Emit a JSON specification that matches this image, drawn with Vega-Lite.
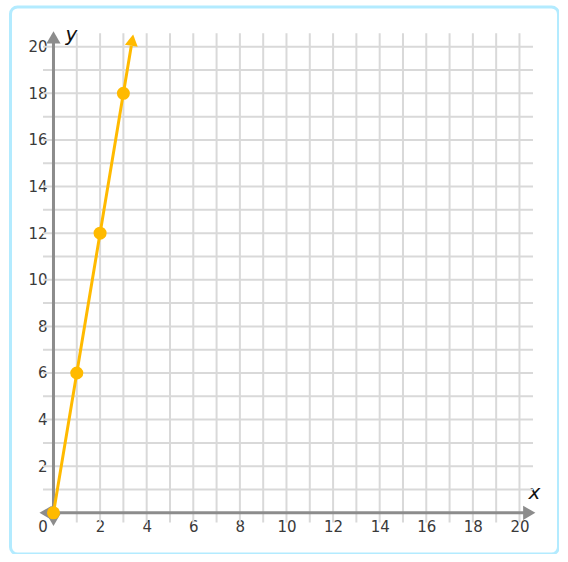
{
  "$schema": "https://vega.github.io/schema/vega-lite/v6.json",
  "autosize": "none",
  "width": 548,
  "height": 547,
  "padding": {"left": 10.5, "top": 7, "right": 0, "bottom": 0},
  "background": "white",
  "config": {
    "view": {"stroke": "#b3ebff", "strokeWidth": 3, "cornerRadius": 7},
    "axis": {"labelFont": "DejaVu Sans", "labelFontSize": 15, "labelColor": "#3a3a3a", "titleFont": "DejaVu Sans"}
  },
  "datasets": {
    "grid": [{"v": 1}, {"v": 2}, {"v": 3}, {"v": 4}, {"v": 5}, {"v": 6}, {"v": 7}, {"v": 8}, {"v": 9}, {"v": 10}, {"v": 11}, {"v": 12}, {"v": 13}, {"v": 14}, {"v": 15}, {"v": 16}, {"v": 17}, {"v": 18}, {"v": 19}, {"v": 20}],
    "pts": [{"x": 0, "y": 0}, {"x": 1, "y": 6}, {"x": 2, "y": 12}, {"x": 3, "y": 18}],
    "line": [{"x": 0, "y": 0}, {"x": 1, "y": 6}, {"x": 2, "y": 12}, {"x": 3, "y": 18}, {"x": 3.34, "y": 20.04}],
    "one": [{"k": 1}]
  },
  "layer": [
    {
      "data": {"name": "grid"},
      "mark": {"type": "rule", "color": "#d9d9d9", "strokeWidth": 2},
      "encoding": {
        "x": {"field": "v", "type": "quantitative",
              "scale": {"domain": [-1.845, 21.675], "nice": false, "zero": false},
              "axis": {"orient": "bottom", "offset": -41.3, "values": [0, 2, 4, 6, 8, 10, 12, 14, 16, 18, 20],
                       "domain": false, "ticks": false, "grid": false, "labelPadding": 7,
                       "labelOffset": {"condition": {"test": "datum.value == 0", "value": -11}, "value": 0},
                       "title": "x", "titleFontStyle": "italic", "titleFontWeight": "normal", "titleFontSize": 20,
                       "titleColor": "#111111", "titleAngle": 0, "titleAlign": "center", "titleBaseline": "alphabetic",
                       "titleX": 523.5, "titleY": -14.7}},
        "y": {"datum": -0.42},
        "y2": {"datum": 20.58}
      }
    },
    {
      "data": {"name": "grid"},
      "mark": {"type": "rule", "color": "#d9d9d9", "strokeWidth": 2},
      "encoding": {
        "y": {"field": "v", "type": "quantitative",
              "scale": {"domain": [-1.767, 21.704], "nice": false, "zero": false},
              "axis": {"orient": "left", "offset": -43, "values": [2, 4, 6, 8, 10, 12, 14, 16, 18, 20],
                       "domain": false, "ticks": false, "grid": false, "labelPadding": 6.5,
                       "title": "y", "titleFontStyle": "italic", "titleFontWeight": "normal", "titleFontSize": 20,
                       "titleColor": "#111111", "titleAngle": 0, "titleAlign": "center", "titleBaseline": "alphabetic",
                       "titleX": 17.5, "titleY": 33}},
        "x": {"datum": -0.45},
        "x2": {"datum": 20.58}
      }
    },
    {
      "data": {"name": "one"},
      "mark": {"type": "rule", "color": "#8c8c8c", "strokeWidth": 3},
      "encoding": {"y": {"datum": 0}, "x": {"datum": -0.3}, "x2": {"datum": 20.3}}
    },
    {
      "data": {"name": "one"},
      "mark": {"type": "rule", "color": "#8c8c8c", "strokeWidth": 3},
      "encoding": {"x": {"datum": 0}, "y": {"datum": -0.25}, "y2": {"datum": 20.3}}
    },
    {
      "data": {"values": [{"x": 20.42, "y": 0}]},
      "mark": {"type": "point", "shape": "triangle-right", "filled": true, "color": "#8c8c8c", "size": 200, "opacity": 1},
      "encoding": {"x": {"field": "x", "type": "quantitative"}, "y": {"field": "y", "type": "quantitative"}}
    },
    {
      "data": {"values": [{"x": -0.34, "y": 0}]},
      "mark": {"type": "point", "shape": "triangle-left", "filled": true, "color": "#8c8c8c", "size": 200, "opacity": 1},
      "encoding": {"x": {"field": "x", "type": "quantitative"}, "y": {"field": "y", "type": "quantitative"}}
    },
    {
      "data": {"values": [{"x": 0, "y": 20.4}]},
      "mark": {"type": "point", "shape": "triangle-up", "filled": true, "color": "#8c8c8c", "size": 200, "opacity": 1},
      "encoding": {"x": {"field": "x", "type": "quantitative"}, "y": {"field": "y", "type": "quantitative"}}
    },
    {
      "data": {"values": [{"x": 0, "y": -0.3}]},
      "mark": {"type": "point", "shape": "triangle-down", "filled": true, "color": "#8c8c8c", "size": 200, "opacity": 1},
      "encoding": {"x": {"field": "x", "type": "quantitative"}, "y": {"field": "y", "type": "quantitative"}}
    },
    {
      "data": {"name": "line"},
      "mark": {"type": "line", "color": "#ffba00", "strokeWidth": 3},
      "encoding": {"x": {"field": "x", "type": "quantitative"}, "y": {"field": "y", "type": "quantitative"}}
    },
    {
      "data": {"name": "pts"},
      "mark": {"type": "point", "shape": "circle", "filled": true, "color": "#ffba00", "size": 170, "opacity": 1},
      "encoding": {"x": {"field": "x", "type": "quantitative"}, "y": {"field": "y", "type": "quantitative"}}
    },
    {
      "data": {"values": [{"x": 3.38, "y": 20.28}]},
      "mark": {"type": "point", "shape": "triangle-up", "filled": true, "color": "#ffba00", "size": 170, "opacity": 1, "angle": 9.5},
      "encoding": {"x": {"field": "x", "type": "quantitative"}, "y": {"field": "y", "type": "quantitative"}}
    }
  ]
}
